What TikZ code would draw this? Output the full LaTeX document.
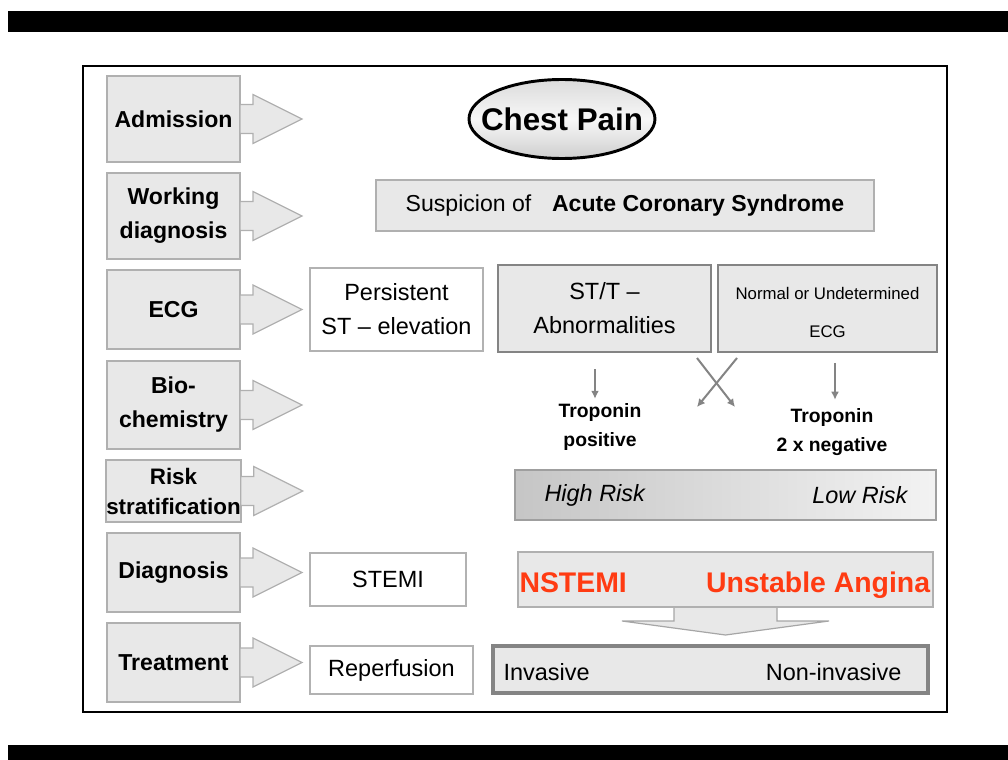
\documentclass[tikz,border=0pt]{standalone}
\usepackage{fontspec}
\setmainfont{Liberation Sans}
\usepackage{tikz}
\usetikzlibrary{arrows.meta, positioning, shapes.geometric}

\definecolor{panelgray}{HTML}{E8E8E8}
\definecolor{edgegray}{HTML}{B0B0B0}
\definecolor{darkedge}{HTML}{848484}
\definecolor{alertred}{HTML}{FF3B12}

\begin{document}
\begin{tikzpicture}[x=0.75pt, y=-0.75pt, thick]

	\tikzset{
		stage/.style={
				draw=edgegray, fill=panelgray, line width=1.5pt, inner sep=0pt, minimum width=99.75pt, align=center, font=\bfseries\fontsize{17.3}{25.5}\selectfont
			},
		stagearrow/.style={
				draw=edgegray, fill=panelgray, line width=0.9pt, line join=miter
			},
		plainbox/.style={
				draw=gray!60, fill=white, line width=0.8pt, inner sep=0pt, align=center, font=\fontsize{17.6}{25.5}\selectfont
			},
		greybox/.style={
				draw=edgegray, fill=panelgray, line width=1.5pt, inner sep=0pt, align=center
			},
		ecgbox/.style={
				draw=darkedge, fill=panelgray, line width=2.2pt, inner sep=0pt, align=center
			},
		flow/.style={
				draw=darkedge, line width=1.5pt, -{Latex[length=6pt, width=6pt]}
			},
		tropo/.style={
				inner sep=0pt, align=center, font=\bfseries\fontsize{14.5}{22}\selectfont
			},
		risklabel/.style={
				inner sep=0pt, font=\itshape\fontsize{17.6}{20}\selectfont
			},
	}

	\useasboundingbox (0,0) rectangle (1008,760);

	% slide bars and frame
	\fill[black] (8,11) rectangle (1008,32);
	\fill[black] (8,745) rectangle (1008,760);
	\draw[black, line width=1.6pt] (83,66) rectangle (947,712);

	% stages on the left
	\node[stage, minimum height=64.5pt] (adm) at (173.5,119) {Admission};
	\node[stage, minimum height=64.5pt, below=6.75pt of adm] (work) {Working\\diagnosis};
	\node[stage, minimum height=59.25pt, below=6.75pt of work] (ecg) {ECG};
	\node[stage, minimum height=66pt, below=7.5pt of ecg] (bio) {Bio-\\chemistry};
	\node[stage, minimum height=46.5pt, below=6.75pt of bio, font=\bfseries\fontsize{16.8}{22.5}\selectfont] (risk) {Risk\\stratification};
	\node[stage, minimum height=59.25pt, below=6.75pt of risk] (diag) {Diagnosis};
	\node[stage, minimum height=59.25pt, below=6.75pt of diag] (treat) {Treatment};

	\foreach \n in {adm, work, ecg, bio, risk, diag, treat}
	\draw[stagearrow] ([xshift=-0.75pt]\n.east) ++(0,-14.5) -- ++(13,0) -- ++(0,-10) -- ++(49,24.5)
	-- ++(-49,24.5) -- ++(0,-10) -- ++(-13,0) -- cycle;

	% admission and working diagnosis
	\node[ellipse, draw=black, line width=2.2pt, top color=gray!28, bottom color=gray!38, middle color=gray!6,
		minimum width=139.5pt, minimum height=59.25pt, inner xsep=-12pt, inner ysep=0pt, font=\bfseries\fontsize{23.5}{26}\selectfont] (chest) at (562,119) {Chest Pain};
	\node[greybox, minimum width=373.5pt, minimum height=38.25pt, font=\fontsize{17.3}{20}\selectfont] (acs) at (625,205.5)
	{Suspicion of\hspace{15.5pt}\textbf{Acute Coronary Syndrome}};

	% ECG
	\node[plainbox, minimum width=129.75pt, minimum height=62.25pt] (pers) at (396.5,309.5) {Persistent\\ST -- elevation};
	\node[ecgbox, minimum width=159.75pt, minimum height=65.25pt, font=\fontsize{17.6}{25.5}\selectfont] (stt) at (604.5,308.5) {ST/T --\\Abnormalities};
	\node[ecgbox, minimum width=164.25pt, minimum height=65.25pt] (norm) at (827.5,308.5) {};
	\node[inner sep=0pt, align=center, font=\fontsize{12.6}{28.5}\selectfont] (normtext) at ([yshift=-3pt]norm.center) {Normal or Undetermined\\ECG};

	% biochemistry
	\node[tropo] (tpos) at (600,427) {Troponin\\positive};
	\node[tropo] (tneg) at (832,432) {Troponin\\2 x negative};

	\draw[flow] ([yshift=-12pt]stt.south -| 595,0) -- ([yshift=3pt]tpos.north -| 595,0);
	\draw[flow] ([yshift=-7pt]norm.south -| 835,0) -- ([yshift=6pt]tneg.north -| 835,0);

	\coordinate (crossa) at (697,358);
	\coordinate (crossb) at (737,358);
	\coordinate (crossc) at (735,407);
	\coordinate (crossd) at (697,407);
	\draw[flow] (crossa) -- (crossc);
	\draw[flow] (crossb) -- (crossd);

	% risk stratification
	\node[draw=gray!75, line width=1.5pt, left color=gray!45, right color=gray!10, minimum width=315.75pt, minimum height=37.5pt] (riskbar) at (725.5,495) {};
	\node[risklabel, anchor=west] (high) at ([xshift=22.5pt]riskbar.west) {High Risk};
	\node[risklabel, anchor=east] (low) at ([xshift=-21.75pt]riskbar.east) {Low Risk};

	% diagnosis
	\node[plainbox, minimum width=117pt, minimum height=39.75pt] (stemi) at (388,579.5) {STEMI};
	\node[greybox, minimum width=311.25pt, minimum height=41.25pt] (nst) at (725.5,579.5) {};
	\node[anchor=base west, inner sep=0pt, text=alertred, font=\bfseries\fontsize{21.3}{24}\selectfont] (nstemi) at ([xshift=1.5pt, yshift=-9.4pt]nst.west) {NSTEMI};
	\node[anchor=base east, inner sep=0pt, text=alertred, font=\bfseries\fontsize{21.3}{24}\selectfont] (ua) at ([xshift=-2.5pt, yshift=-9.4pt]nst.east) {Unstable Angina};
	\draw[stagearrow, draw=gray!70] (nst.south) ++(-51.5,0) -- ++(0,13) -- ++(-52,0) -- ++(103.5,14) -- ++(103.5,-14)
	-- ++(-52,0) -- ++(0,-13);

	% treatment
	\node[plainbox, minimum width=122.25pt, minimum height=36pt] (reperf) at (391.5,670) {Reperfusion};
	\node[ecgbox, line width=3pt, minimum width=326.25pt, minimum height=35.25pt] (strat) at (710.5,669.5) {};
	\node[anchor=base west, inner sep=0pt, font=\fontsize{17.6}{20}\selectfont] (inv) at ([xshift=9pt, yshift=-7.9pt]strat.west) {Invasive};
	\node[anchor=base east, inner sep=0pt, font=\fontsize{17.6}{20}\selectfont] (noninv) at ([xshift=-21pt, yshift=-7.9pt]strat.east) {Non-invasive};

\end{tikzpicture}
\end{document}
